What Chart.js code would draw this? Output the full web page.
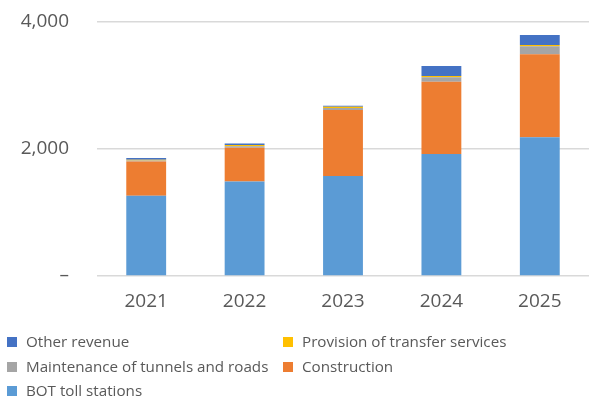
<!DOCTYPE html>
<html>
<head>
<meta charset="utf-8">
<script src="https://cdn.jsdelivr.net/npm/chart.js@4"></script>
<style>
html,body{margin:0;padding:0;background:#fff;}
#wrap{width:589px;height:400px;position:relative;}
</style>
</head>
<body>
<div id="wrap"><canvas id="c"></canvas></div>
<script>
const categories = ['2021', '2022', '2023', '2024', '2025'];
const botTollStations = [1265, 1490, 1575, 1920, 2184];
const construction = [540, 528, 1040, 1140, 1307];
const maintenance = [15, 25, 30, 70, 126];
const provisionTransfer = [10, 20, 20, 20, 20];
const otherRevenue = [30, 25, 15, 157, 157];
const yTicks = [0, 2000, 4000];

const FONT = "'Open Sans', sans-serif";
const TEXT = '#595959';

const legendPlugin = {
  id: 'gridLegend',
  afterDraw(chart) {
    const ctx = chart.ctx;
    const items = chart.data.datasets.map((d, i) => ({ label: d.label, color: d.backgroundColor })).reverse();
    const cols = [7, 283];
    const rows = [342, 367, 391];
    ctx.save();
    ctx.font = '15.2px ' + FONT;
    ctx.textBaseline = 'middle';
    ctx.fillStyle = TEXT;
    items.forEach((it, i) => {
      const x = cols[i % 2];
      const y = rows[Math.floor(i / 2)];
      ctx.fillStyle = it.color;
      ctx.fillRect(x, y - 5, 10, 10);
      ctx.fillStyle = TEXT;
      ctx.fillText(it.label, x + 19, y + 1);
    });
    ctx.restore();
  }
};

const mk = (label, data, color) => ({
  label, data, backgroundColor: color,
  borderWidth: 0,
  categoryPercentage: 1, barPercentage: 0.405
});

new Chart(document.getElementById('c'), {
  type: 'bar',
  data: {
    labels: categories,
    datasets: [
      mk('BOT toll stations', botTollStations, '#5B9BD5'),
      mk('Construction', construction, '#ED7D31'),
      mk('Maintenance of tunnels and roads', maintenance, '#A5A5A5'),
      mk('Provision of transfer services', provisionTransfer, '#FFC000'),
      mk('Other revenue', otherRevenue, '#4472C4')
    ]
  },
  options: {
    responsive: true,
    maintainAspectRatio: false,
    animation: false,
    layout: { padding: { top: 22, right: -3, bottom: 84, left: 0 } },
    plugins: { legend: { display: false }, tooltip: { enabled: false } },
    scales: {
      x: {
        stacked: true,
        grid: { display: false, drawTicks: false },
        border: { display: false },
        ticks: { color: TEXT, font: { family: FONT, size: 19 }, padding: 14 },
        afterFit: s => { s.height = 40; }
      },
      y: {
        stacked: true,
        min: 0, max: 4000,
        afterBuildTicks: s => { s.ticks = yTicks.map(v => ({ value: v })); },
        grid: { color: '#d9d9d9', lineWidth: 1.5, drawTicks: false },
        border: { display: false },
        ticks: {
          color: TEXT, font: { family: FONT, size: 19 }, padding: 28,
          callback: v => v === 0 ? '–' : v.toLocaleString('en-US')
        },
        afterFit: s => { s.width = 97; s.paddingTop = 0; s.paddingBottom = 0; }
      }
    }
  },
  plugins: [legendPlugin]
});
</script>
</body>
</html>
